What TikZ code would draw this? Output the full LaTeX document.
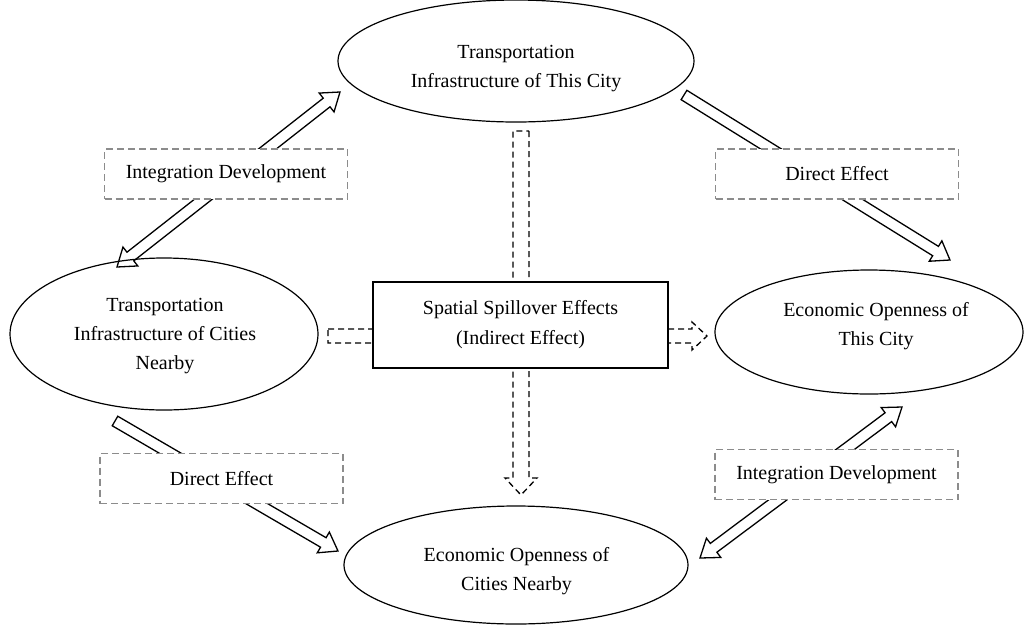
\documentclass[tikz,border=0pt]{standalone}
\usepackage{fontspec}
\setmainfont{Liberation Serif}
\usetikzlibrary{shapes.geometric,calc}
\definecolor{boxgray}{RGB}{140,140,140}
% hollow block arrow with one head: [opts]{from}{to}{half shaft}{half head}{head length}
\newcommand\harrowone[6][]{%
  \coordinate (hA) at (#2); \coordinate (hB) at (#3);
  \coordinate (hH) at ($(hB)!#6!(hA)$);
  \draw[#1] ($(hA)!#4!90:(hB)$) -- ($(hH)!#4!-90:(hA)$) -- ($(hH)!#5!-90:(hA)$)
    -- (hB) -- ($(hH)!#5!90:(hA)$) -- ($(hH)!#4!90:(hA)$) -- ($(hA)!#4!-90:(hB)$) -- cycle;
}
% hollow block arrow with two heads
\newcommand\harrowtwo[6][]{%
  \coordinate (hA) at (#2); \coordinate (hB) at (#3);
  \coordinate (hHa) at ($(hA)!#6!(hB)$);
  \coordinate (hHb) at ($(hB)!#6!(hA)$);
  \draw[#1] (hA) -- ($(hHa)!#5!90:(hB)$) -- ($(hHa)!#4!90:(hB)$) -- ($(hHb)!#4!-90:(hA)$)
    -- ($(hHb)!#5!-90:(hA)$) -- (hB) -- ($(hHb)!#5!90:(hA)$) -- ($(hHb)!#4!90:(hA)$)
    -- ($(hHa)!#4!-90:(hB)$) -- ($(hHa)!#5!-90:(hB)$) -- cycle;
}
\begin{document}
\begin{tikzpicture}[x=1pt,y=-1pt,
  ell/.style={draw, ellipse, line width=1.2pt, inner sep=0pt},
  txt/.style={align=center, font=\fontsize{20}{29}\selectfont, inner sep=0pt},
  lbl/.style={draw=boxgray, dash pattern=on 7pt off 4pt, line width=1.8pt, fill=white,
    minimum width=243pt, minimum height=50pt, inner sep=0pt, font=\fontsize{20}{29}\selectfont},
  spill/.style={draw, fill=white, line width=1.5pt, minimum width=295pt, minimum height=86pt,
    inner sep=0pt, align=center, font=\fontsize{20}{30}\selectfont},
  harr/.style={line width=1.3pt, line join=miter, fill=white},
  darr/.style={harr, dash pattern=on 6pt off 4pt}]
\useasboundingbox (0,0) rectangle (1029,625);
% arrow end points
\coordinate (ulA) at (117,267); \coordinate (ulB) at (340,92);
\coordinate (urA) at (684,95);  \coordinate (urB) at (950,260);
\coordinate (llA) at (115,421); \coordinate (llB) at (338,551);
\coordinate (lrA) at (700,558); \coordinate (lrB) at (902,407);
\coordinate (vA) at (521,131);  \coordinate (vB) at (521,495);
\coordinate (hzA) at (328,336); \coordinate (hzB) at (707,336);
% arrows
\harrowtwo[harr]{ulA}{ulB}{5.5pt}{12pt}{17pt}
\harrowone[harr]{urA}{urB}{5.5pt}{12pt}{17pt}
\harrowone[harr]{llA}{llB}{5.5pt}{12pt}{17pt}
\harrowtwo[harr]{lrA}{lrB}{5.5pt}{12pt}{17pt}
\harrowone[darr]{vA}{vB}{8pt}{16pt}{17pt}
\harrowone[darr]{hzA}{hzB}{7pt}{14pt}{15pt}
% label boxes
\node[lbl] (l1) at (226,174) {Integration Development};
\node[lbl] (l2) at (837,174) {Direct Effect};
\node[lbl] (l3) at (221.5,478.5) {Direct Effect};
\node[lbl] (l4) at (836.5,474.5) {Integration Development};
\node[spill] (sp) at (520.5,325) {Spatial Spillover Effects\\(Indirect Effect)};
% ellipses
\node[ell, minimum width=356pt, minimum height=122pt] (top) at (516,61) {};
\node[ell, minimum width=308pt, minimum height=152pt] (left) at (164,334) {};
\node[ell, minimum width=308pt, minimum height=124pt] (right) at (869,332) {};
\node[ell, minimum width=344pt, minimum height=118pt] (bot) at (516,565) {};
\node[txt] (topt) at (516,68.5) {Transportation\\Infrastructure of This City};
\node[txt] (leftt) at (165,336) {Transportation\\Infrastructure of Cities\\Nearby};
\node[txt] (rightt) at (876,326.5) {Economic Openness of\\This City};
\node[txt] (bott) at (516.5,571.5) {Economic Openness of\\Cities Nearby};
\end{tikzpicture}
\end{document}
